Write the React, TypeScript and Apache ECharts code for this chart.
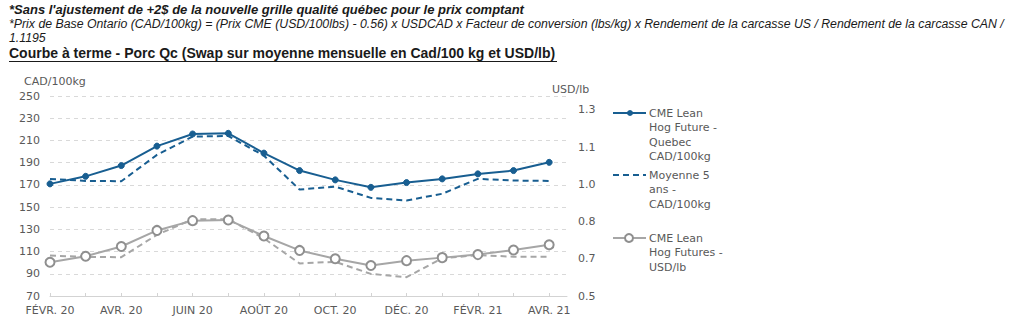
import React, { useEffect, useRef } from "react";
import * as echarts from "echarts";

const categories = [
  "FÉVR. 20", "MARS 20", "AVR. 20", "MAI 20", "JUIN 20", "JUIL. 20", "AOÛT 20", "SEPT. 20",
  "OCT. 20", "NOV. 20", "DÉC. 20", "JANV. 21", "FÉVR. 21", "MARS 21", "AVR. 21",
];
const quebecCad = [170.9, 177.7, 187.4, 204.9, 215.8, 216.4, 198.6, 182.9, 174.5, 167.8, 172.1, 175.4, 179.9, 182.9, 190.3];
const avg5Cad = [175.4, 173.6, 173.3, 197.0, 213.5, 214.0, 196.3, 165.8, 168.5, 158.3, 156.0, 162.0, 175.4, 173.9, 173.6];
const cmeUsd = [0.645, 0.671, 0.713, 0.782, 0.824, 0.827, 0.758, 0.696, 0.66, 0.631, 0.652, 0.665, 0.678, 0.698, 0.72];
const avg5Usd = [0.674, 0.668, 0.667, 0.763, 0.83, 0.83, 0.748, 0.64, 0.647, 0.595, 0.581, 0.662, 0.676, 0.669, 0.669];

const leftAxis = { min: 70, max: 250, step: 20 };
const rightAxis = { min: 0.5, max: 1.36, step: 0.16 };

const seriesNames = [
  "CME Lean\nHog Future -\nQuebec\nCAD/100kg",
  "Moyenne 5\nans -\nCAD/100kg",
  "CME Lean\nHog Futures -\nUSD/lb",
  "Moyenne 5 ans - USD/lb",
];

const headerLines = [
  "*Sans l'ajustement de +2$ de la nouvelle grille qualité québec pour le prix comptant",
  "*Prix de Base Ontario (CAD/100kg) = (Prix CME (USD/100lbs) - 0.56) x USDCAD x Facteur de conversion (lbs/kg) x Rendement de la carcasse US / Rendement de la carcasse CAN /",
  "1.1195",
  "Courbe à terme - Porc Qc (Swap sur moyenne mensuelle en Cad/100 kg et USD/lb)",
];

const BLUE = "#185E91";
const GRAY = "#A6A6A6";
const GRAY_MK = "#8F8F8F";
const TXT = "#595959";
const AXFONT = "DejaVu Sans";

export default function App() {
  const ref = useRef<HTMLDivElement>(null);
  useEffect(() => {
    if (!ref.current) return;
    const chart = echarts.init(ref.current, undefined, { renderer: "svg" });
    const toPairs = (arr: number[]) => arr.map((v, i) => [i, v]);
    const legendText = (x: number, y: number, text: string) => ({
      type: "text",
      x,
      y,
      style: { text, fill: TXT, font: `11px ${AXFONT}`, lineHeight: 14.5, verticalAlign: "top" },
    });
    const option: any = {
      animation: false,
      backgroundColor: "#fff",
      grid: { left: 50, right: 457, top: 96, bottom: 31 },
      xAxis: {
        type: "value",
        min: 0,
        max: categories.length - 0.5,
        interval: 1,
        axisLine: { show: true, lineStyle: { color: "#D3D3D3", width: 1 } },
        axisTick: { show: true, inside: true, length: 3, lineStyle: { color: "#D3D3D3" } },
        splitLine: { show: false },
        axisLabel: {
          color: TXT,
          fontFamily: AXFONT,
          fontSize: 11,
          margin: 9,
          showMaxLabel: false,
          formatter: (v: number) => (Number.isInteger(v) && v % 2 === 0 ? categories[v] : ""),
        },
      },
      yAxis: [
        {
          type: "value",
          min: leftAxis.min,
          max: leftAxis.max,
          interval: leftAxis.step,
          axisLine: { show: false },
          axisTick: { show: false },
          splitLine: { show: true, lineStyle: { color: "#D9D9D9", type: [4, 4], width: 1 } },
          axisLabel: { color: TXT, fontFamily: AXFONT, fontSize: 11, margin: 10 },
        },
        {
          type: "value",
          min: rightAxis.min,
          max: rightAxis.max,
          interval: rightAxis.step,
          axisLine: { show: false },
          axisTick: { show: false },
          splitLine: { show: false },
          axisLabel: {
            color: TXT,
            fontFamily: AXFONT,
            fontSize: 11,
            margin: 11,
            showMaxLabel: false,
            formatter: (v: number) => v.toFixed(1),
          },
        },
      ],
      series: [
        {
          name: seriesNames[3],
          type: "line",
          yAxisIndex: 1,
          data: toPairs(avg5Usd),
          symbol: "none",
          lineStyle: { color: GRAY, width: 2, type: [6, 4] },
          z: 2,
        },
        {
          name: seriesNames[2],
          type: "line",
          yAxisIndex: 1,
          data: toPairs(cmeUsd),
          symbol: "circle",
          symbolSize: 9,
          itemStyle: { color: "#fff", borderColor: GRAY_MK, borderWidth: 2 },
          lineStyle: { color: GRAY, width: 2 },
          z: 3,
        },
        {
          name: seriesNames[1],
          type: "line",
          yAxisIndex: 0,
          data: toPairs(avg5Cad),
          symbol: "none",
          lineStyle: { color: BLUE, width: 2, type: [6, 4] },
          z: 4,
        },
        {
          name: seriesNames[0],
          type: "line",
          yAxisIndex: 0,
          data: toPairs(quebecCad),
          symbol: "circle",
          symbolSize: 6,
          itemStyle: { color: BLUE, borderColor: BLUE, borderWidth: 1 },
          lineStyle: { color: BLUE, width: 2 },
          z: 5,
        },
      ],
      graphic: [
        {
          type: "text",
          x: 9,
          y: 9,
          style: { text: headerLines[0], fill: "#1a1a1a", font: "italic bold 13px 'Liberation Sans'", verticalAlign: "middle" },
        },
        {
          type: "text",
          x: 9,
          y: 24,
          style: { text: headerLines[1], fill: "#1a1a1a", font: "italic 12.3px 'Liberation Sans'", verticalAlign: "middle" },
        },
        {
          type: "text",
          x: 9,
          y: 38,
          style: { text: headerLines[2], fill: "#1a1a1a", font: "italic 12.3px 'Liberation Sans'", verticalAlign: "middle" },
        },
        {
          type: "text",
          x: 9,
          y: 53,
          style: { text: headerLines[3], fill: "#1a1a1a", font: "bold 14px 'Liberation Sans'", verticalAlign: "middle" },
        },
        { type: "line", shape: { x1: 9, y1: 61.5, x2: 557, y2: 61.5 }, style: { stroke: "#1a1a1a", lineWidth: 1 } },
        {
          type: "text",
          x: 24,
          y: 81,
          style: { text: "CAD/100kg", fill: TXT, font: `11px ${AXFONT}`, verticalAlign: "middle" },
        },
        {
          type: "text",
          x: 552,
          y: 89,
          style: { text: "USD/lb", fill: TXT, font: `11px ${AXFONT}`, verticalAlign: "middle" },
        },
        // legend item 1
        { type: "line", shape: { x1: 613, y1: 113, x2: 646, y2: 113 }, style: { stroke: BLUE, lineWidth: 2 } },
        { type: "circle", shape: { cx: 630, cy: 113, r: 3 }, style: { fill: BLUE } },
        legendText(649, 106, seriesNames[0]),
        // legend item 2
        { type: "line", shape: { x1: 613, y1: 175, x2: 646, y2: 175 }, style: { stroke: BLUE, lineWidth: 2, lineDash: [6, 4] } },
        legendText(649, 168, seriesNames[1]),
        // legend item 3
        { type: "line", shape: { x1: 613, y1: 238, x2: 646, y2: 238 }, style: { stroke: GRAY, lineWidth: 2 } },
        { type: "circle", shape: { cx: 629, cy: 238, r: 4 }, style: { fill: "#fff", stroke: GRAY_MK, lineWidth: 2 } },
        legendText(649, 231, seriesNames[2]),
      ],
    };
    chart.setOption(option);
    return () => chart.dispose();
  }, []);
  return (
    <div
      ref={ref}
      style={{ position: "fixed", left: 0, top: 0, width: 1024, height: 327, background: "#fff" }}
    />
  );
}
